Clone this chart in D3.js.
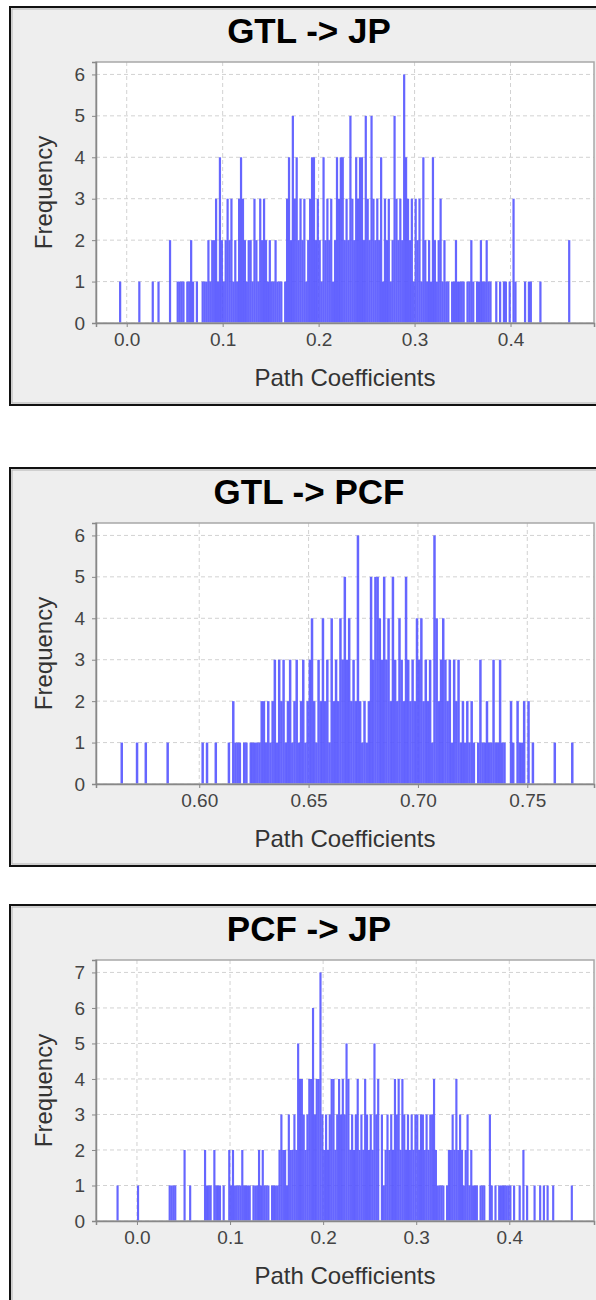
<!DOCTYPE html>
<html>
<head>
<meta charset="utf-8">
<script src="https://cdn.jsdelivr.net/npm/d3@7"></script>
<style>
  body { margin: 0; background: #fff; }
  svg { display: block; font-family: "Liberation Sans", Arial, Helvetica, sans-serif; }
</style>
</head>
<body>
<div id="chart"></div>
<script>
// ---- data ----
const titles = ["GTL -> JP", "GTL -> PCF", "PCF -> JP"];
const binStarts = [-0.010, 0.563, -0.024]; // left edge of first bin
const binWidths = [0.002, 0.001, 0.002];

const gtlJpCounts = [
  0,1,0,0,0,0,0,0,0,0, 0,1,0,0,0,0,0,0,1,0, 0,1,0,0,0,0,0,2,0,0,
  0,1,1,1,1,0,1,1,2,1, 0,1,0,0,1,1,1,2,1,2, 2,3,1,4,2,1,2,3,2,3,
  1,2,1,3,4,3,2,1,2,2, 1,3,2,1,3,2,3,2,1,2, 1,1,2,1,1,1,0,1,3,4,
  2,5,3,4,2,3,2,3,1,2, 3,4,4,2,3,2,1,4,2,3, 2,3,1,2,4,3,4,4,2,3,
  2,5,3,2,4,3,4,4,2,5, 3,2,5,3,2,3,2,4,1,3, 2,3,1,2,5,3,2,3,2,6,
  4,3,2,3,1,3,2,3,1,4, 2,1,2,1,4,2,1,2,3,1, 2,1,1,0,1,1,2,1,1,1,
  1,0,1,1,2,1,0,1,1,2, 1,1,2,1,1,0,0,1,0,1, 0,1,1,0,1,0,3,1,0,0,
  0,0,1,0,1,1,0,0,0,0, 1,0,0,0,0,0,0,0,0,0, 0,0,0,0,0,2,0,0
];

const gtlPcfCounts = [
  0,1,0,0,0,0,0,0,1,0, 0,0,1,0,0,0,0,0,0,0, 0,0,1,0,0,0,0,0,0,0,
  0,0,0,0,0,0,0,0,1,0, 1,0,0,0,1,0,0,0,0,0, 1,0,2,1,1,1,0,1,1,0,
  1,1,1,1,1,2,2,1,2,1, 2,3,1,3,2,3,1,2,3,1, 2,3,1,2,3,1,2,3,4,2,
  1,3,2,4,2,3,1,4,2,3, 2,4,3,5,3,4,2,3,2,6, 2,1,2,1,2,5,3,5,5,4,
  3,5,3,4,2,5,3,2,4,3, 2,5,3,2,3,2,4,3,4,2, 3,2,3,1,6,4,2,3,4,3,
  2,3,1,3,2,3,1,2,1,2, 1,2,1,0,1,3,1,1,2,1, 1,3,1,1,3,1,1,0,0,2,
  1,0,2,1,1,2,0,2,0,1, 0,0,0,0,0,0,0,0,0,1, 0,0,0,0,0,0,0,1,0,0
];

const pcfJpCounts = [
  0,1,0,0,0,0,0,0,0,0, 0,0,1,0,0,0,0,0,0,0, 0,0,0,0,0,0,0,0,0,1,
  1,1,1,0,0,0,0,2,0,0, 1,0,0,0,0,0,0,0,2,1, 1,1,0,2,1,1,1,0,1,0,
  0,2,1,2,1,1,1,1,2,1, 1,1,1,0,1,1,1,2,1,2, 1,1,1,0,1,1,1,1,2,3,
  2,2,1,3,2,2,3,2,5,4, 4,3,2,3,4,4,6,3,4,4, 7,3,2,3,2,3,4,4,2,3,
  4,3,4,3,5,4,2,3,2,3, 4,2,3,2,4,3,2,3,2,5, 3,4,0,3,1,2,3,2,3,2,
  4,3,4,2,4,3,2,3,2,3, 2,3,3,2,3,3,2,3,2,3, 3,4,2,1,1,1,1,0,1,2,
  2,3,2,4,2,3,2,1,2,3, 1,2,1,1,1,0,1,1,1,0, 0,3,1,0,1,0,1,1,1,1,
  1,1,1,0,1,0,0,1,0,2, 0,1,0,0,0,1,0,0,1,0, 1,0,1,0,0,1,0,0,0,0,
  0,0,0,0,0,1,0,0,0,0
];

const xTickValues = [
  [0.0, 0.1, 0.2, 0.3, 0.4],
  [0.60, 0.65, 0.70, 0.75],
  [0.0, 0.1, 0.2, 0.3, 0.4]
];
const xTickFormats = [".1f", ".2f", ".1f"];
const xRanges = [[-0.032, 0.487], [0.5528, 0.7805], [-0.044, 0.491]];
const yMaxes = [6.3, 6.3, 7.35];

// ---- layout ----
const width = 596;
const height = 1300;
const frameTops = [7, 468, 905];
const frame = { x: 10, width: 600, height: 398 };
const plot = { left: 96, right: 594, top: 55, height: 261 };

const svg = d3
  .select("#chart")
  .append("svg")
  .attr("width", width)
  .attr("height", height);

// Turn a counts array into bin objects
function toBins(counts, start, step) {
  return counts.map((c, i) => ({ x0: start + i * step, x1: start + (i + 1) * step, count: c }));
}

// Draw one framed histogram panel
function drawPanel(i, counts) {
  const top = frameTops[i];
  const g = svg.append("g");

  // outer frame with light grey fill
  g.append("rect")
    .attr("x", frame.x)
    .attr("y", top)
    .attr("width", frame.width)
    .attr("height", frame.height)
    .attr("fill", "#eeeeee")
    .attr("stroke", "#111")
    .attr("stroke-width", 2);
  g.append("rect")
    .attr("x", frame.x + 2)
    .attr("y", top + 2)
    .attr("width", frame.width - 4)
    .attr("height", frame.height - 4)
    .attr("fill", "none")
    .attr("stroke", "#b0b0b0")
    .attr("stroke-width", 1);

  // title
  g.append("text")
    .attr("x", 309)
    .attr("y", top + 36)
    .attr("text-anchor", "middle")
    .attr("font-size", 35)
    .attr("font-weight", "bold")
    .attr("fill", "#000")
    .text(titles[i]);

  const y0 = top + plot.top;
  const y1 = y0 + plot.height;

  const x = d3.scaleLinear().domain(xRanges[i]).range([plot.left, plot.right]);
  const y = d3.scaleLinear().domain([0, yMaxes[i]]).range([y1, y0]);

  // plot background
  g.append("rect")
    .attr("x", plot.left)
    .attr("y", y0)
    .attr("width", plot.right - plot.left)
    .attr("height", plot.height)
    .attr("fill", "#fff");

  const yTicks = d3.range(0, Math.floor(yMaxes[i]) + 1);

  // dashed grid lines
  g.append("g")
    .selectAll("line")
    .data(xTickValues[i])
    .join("line")
    .attr("x1", (d) => x(d))
    .attr("x2", (d) => x(d))
    .attr("y1", y0)
    .attr("y2", y1)
    .attr("stroke", "#d2d2d2")
    .attr("stroke-dasharray", "4,3");
  g.append("g")
    .selectAll("line")
    .data(yTicks)
    .join("line")
    .attr("x1", plot.left)
    .attr("x2", plot.right)
    .attr("y1", (d) => y(d))
    .attr("y2", (d) => y(d))
    .attr("stroke", "#d2d2d2")
    .attr("stroke-dasharray", "4,3");

  // histogram bars (slightly widened so neighbouring bins read as a solid block)
  const bins = toBins(counts, binStarts[i], binWidths[i]).filter((b) => b.count > 0);
  g.append("g")
    .selectAll("rect")
    .data(bins)
    .join("rect")
    .attr("x", (d) => x(d.x0))
    .attr("y", (d) => y(d.count))
    .attr("width", (d) => x(d.x1) - x(d.x0) + 0.3)
    .attr("height", (d) => y(0) - y(d.count))
    .attr("fill", "#5555ff")
    .attr("fill-opacity", 0.9);

  // plot outline
  g.append("rect")
    .attr("x", plot.left)
    .attr("y", y0)
    .attr("width", plot.right - plot.left)
    .attr("height", plot.height)
    .attr("fill", "none")
    .attr("stroke", "#a8a8a8")
    .attr("stroke-width", 1.5);

  // axes
  const xAxis = d3
    .axisBottom(x)
    .tickValues(xTickValues[i])
    .tickFormat(d3.format(xTickFormats[i]))
    .tickSize(4)
    .tickPadding(6);
  const yAxis = d3.axisLeft(y).tickValues(yTicks).tickFormat(d3.format("d")).tickSize(4).tickPadding(7);

  const gx = g.append("g").attr("transform", `translate(0,${y1})`).call(xAxis);
  const gy = g.append("g").attr("transform", `translate(${plot.left},0)`).call(yAxis);

  [gx, gy].forEach((ax) => {
    ax.select(".domain").attr("stroke", "#888").attr("stroke-width", 1.5);
    ax.selectAll(".tick line").attr("stroke", "#888");
    ax.selectAll(".tick text")
      .attr("font-size", 19)
      .attr("fill", "#444")
      .attr("font-family", "Liberation Sans, Arial, sans-serif");
  });

  // axis titles
  g.append("text")
    .attr("x", (plot.left + plot.right) / 2)
    .attr("y", y1 + 63)
    .attr("text-anchor", "middle")
    .attr("font-size", 24)
    .attr("fill", "#333")
    .text("Path Coefficients");

  g.append("text")
    .attr("transform", `translate(52,${(y0 + y1) / 2}) rotate(-90)`)
    .attr("text-anchor", "middle")
    .attr("font-size", 24)
    .attr("fill", "#333")
    .text("Frequency");
}

[gtlJpCounts, gtlPcfCounts, pcfJpCounts].forEach((counts, i) => drawPanel(i, counts));
</script>
</body>
</html>
